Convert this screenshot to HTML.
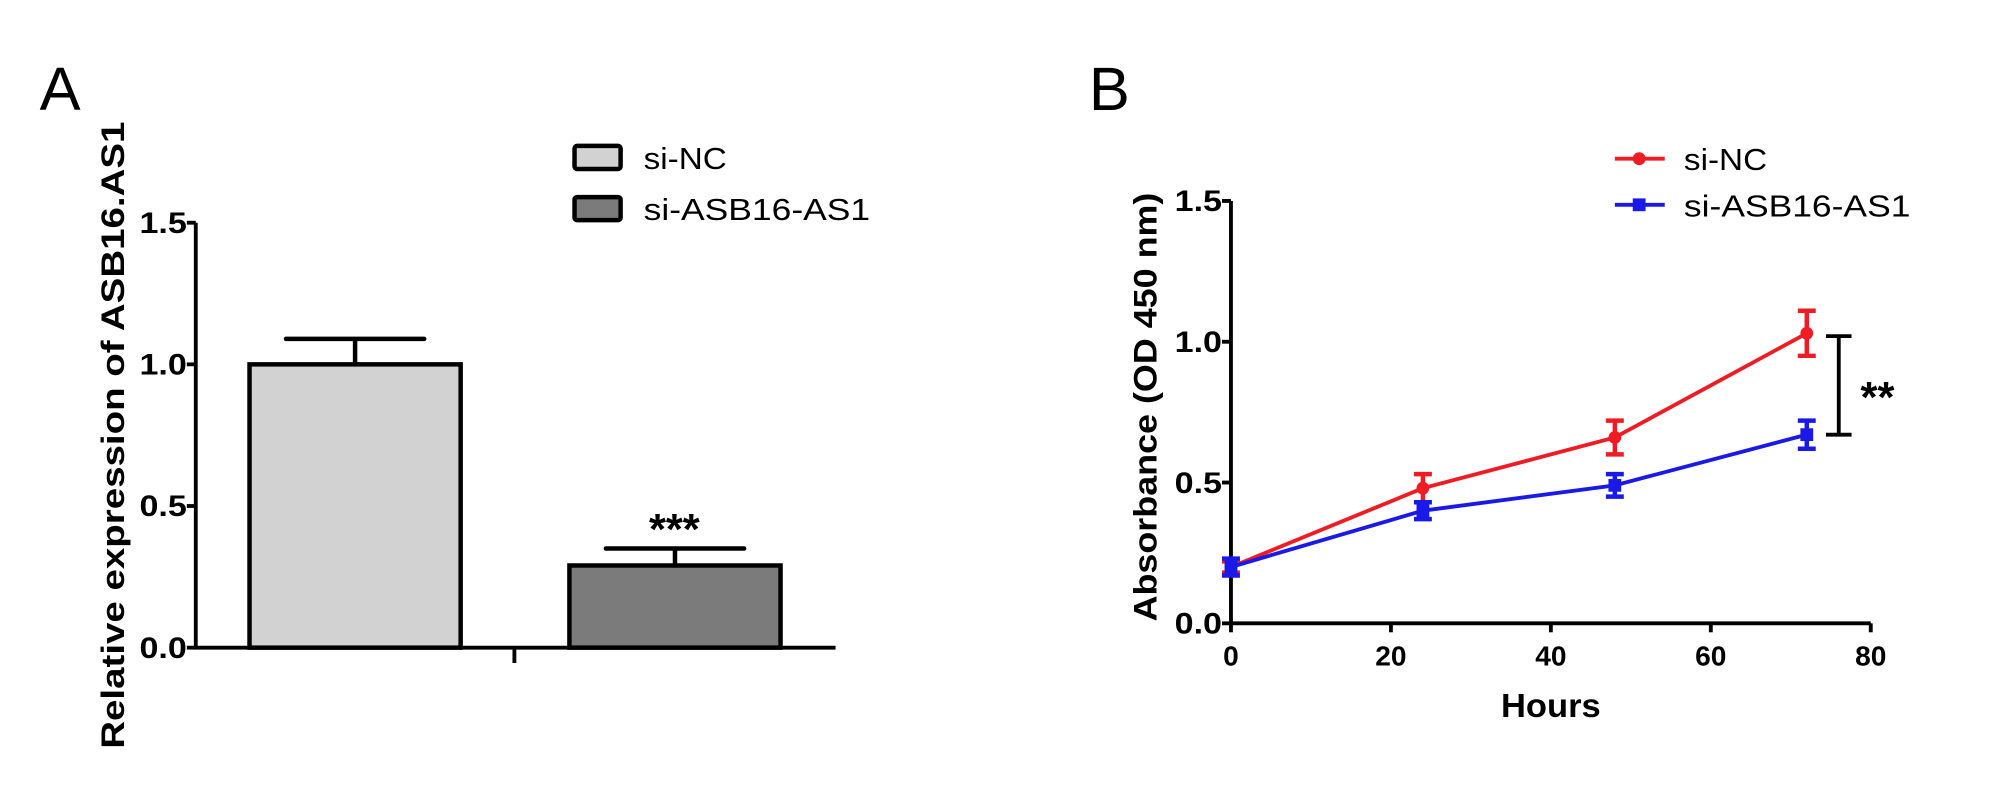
<!DOCTYPE html>
<html><head><meta charset="utf-8"><style>
html,body{margin:0;padding:0;background:#fff;}
svg{display:block;font-family:"Liberation Sans",Arial,sans-serif;}
</style></head><body>
<svg id="fig" width="2000" height="791" viewBox="0 0 1563 618" preserveAspectRatio="none">
<rect width="1563" height="618" fill="#fff"/>
<g id="pa"></g>
<g id="pb"></g>
</svg>
<script>
// Panel A data
const barCats = ["si-NC", "si-ASB16-AS1"];
const barVals = [1.0, 0.29];
const barErr = [0.09, 0.06];
const barColors = ["#d2d2d2", "#7b7b7b"];
const aTicks = [0, 0.5, 1.0, 1.5];
const aTickLabels = ["0.0", "0.5", "1.0", "1.5"];
// Panel B data
const hours = [0, 24, 48, 72];
const ncVals = [0.20, 0.48, 0.66, 1.03];
const ncErr = [0.02, 0.05, 0.06, 0.08];
const asVals = [0.20, 0.40, 0.49, 0.67];
const asErr = [0.03, 0.03, 0.04, 0.05];
const bYTicks = [0, 0.5, 1.0, 1.5];
const bYLabels = ["0.0", "0.5", "1.0", "1.5"];
const bXTicks = [0, 20, 40, 60, 80];

const NS = "http://www.w3.org/2000/svg";
function mk(parent, tag, attrs, text) {
  const e = document.createElementNS(NS, tag);
  for (const k in attrs) e.setAttribute(k, attrs[k]);
  if (text !== undefined) e.textContent = text;
  parent.appendChild(e);
  return e;
}
const pa = document.getElementById("pa");
const pb = document.getElementById("pb");

// ---------- Panel A ----------
const ay = v => 506 - v / 1.5 * 332;
let t = mk(pa, "text", {x: 31, y: 86, "font-size": 48}, "A");


let ax = mk(pa, "path", {d: "M153 174 V506 H653 M402 506 V518", stroke: "#000", "stroke-width": 3, fill: "none"});


aTicks.forEach((v, i) => {
  const tk = mk(pa, "line", {x1: 146, x2: 153, y1: ay(v), y2: ay(v), stroke: "#000", "stroke-width": 3});
  
  
  const tl = mk(pa, "text", {x: 146, y: ay(v) + 8, "font-size": 23, "font-weight": "bold", "text-anchor": "end", textLength: 37, lengthAdjust: "spacingAndGlyphs"}, aTickLabels[i]);
  
  
});
t = mk(pa, "text", {x: 0, y: 0, "font-size": 25, "font-weight": "bold", "text-anchor": "middle", textLength: 490, lengthAdjust: "spacingAndGlyphs", transform: "translate(97,340) rotate(-90)"}, "Relative expression of ASB16.AS1");


const barX = [195, 445], barW = 165;
barVals.forEach((v, i) => {
  const x = barX[i], cx = x + barW / 2;
  const b = mk(pa, "rect", {x: x, y: ay(v), width: barW, height: 506 - ay(v), fill: barColors[i], stroke: "#000", "stroke-width": 3.5});
  
  
  const e = mk(pa, "path", {d: `M${cx} ${ay(v)} V${ay(v + barErr[i])} M${cx - 54} ${ay(v + barErr[i])} H${cx + 54}`, stroke: "#000", "stroke-width": 3.5, "stroke-linecap": "round", fill: "none"});
  
  
});
t = mk(pa, "text", {x: 527, y: 425, "font-size": 34, "font-weight": "bold", "text-anchor": "middle"}, "***");


barCats.forEach((c, i) => {
  const y = 114 + i * 40;
  const r = mk(pa, "rect", {x: 449, y: y, width: 36, height: 18, fill: barColors[i], stroke: "#000", "stroke-width": 3.5, rx: 2});
  
  
  const tx = mk(pa, "text", {x: 503, y: y + 18, "font-size": 24, textLength: i ? 177 : 65, lengthAdjust: "spacingAndGlyphs"}, c);
  
  
});

// ---------- Panel B ----------
const bx = v => 962 + v / 80 * 500;
const by = v => 487 - v / 1.5 * 330;
t = mk(pb, "text", {x: 851, y: 86, "font-size": 48}, "B");


ax = mk(pb, "path", {d: "M962 157 V487 H1462", stroke: "#000", "stroke-width": 3, fill: "none"});


bYTicks.forEach((v, i) => {
  const tk = mk(pb, "line", {x1: 955, x2: 962, y1: by(v), y2: by(v), stroke: "#000", "stroke-width": 3});
  
  
  const tl = mk(pb, "text", {x: 955, y: by(v) + 8, "font-size": 23, "font-weight": "bold", "text-anchor": "end", textLength: 37, lengthAdjust: "spacingAndGlyphs"}, bYLabels[i]);
  
  
});
bXTicks.forEach(v => {
  const tk = mk(pb, "line", {x1: bx(v), x2: bx(v), y1: 487, y2: 494, stroke: "#000", "stroke-width": 3});
  
  
  const tl = mk(pb, "text", {x: bx(v), y: 520, "font-size": 22, "font-weight": "bold", "text-anchor": "middle"}, String(v));
  
  
});
t = mk(pb, "text", {x: 1212, y: 560, "font-size": 26, "font-weight": "bold", "text-anchor": "middle", textLength: 78, lengthAdjust: "spacingAndGlyphs"}, "Hours");


t = mk(pb, "text", {x: 0, y: 0, "font-size": 25, "font-weight": "bold", "text-anchor": "middle", textLength: 335, lengthAdjust: "spacingAndGlyphs", transform: "translate(904,318) rotate(-90)"}, "Absorbance (OD 450 nm)");



function series(vals, errs, color, name, square) {
  const g = mk(pb, "g", {});
  
  
  const pts = hours.map((h, i) => bx(h) + "," + by(vals[i])).join(" ");
  const l = mk(g, "polyline", {points: pts, fill: "none", stroke: color, "stroke-width": 3});
  
  
  hours.forEach((h, i) => {
    const x = bx(h), y = by(vals[i]), e = errs[i];
    const eb = mk(g, "path", {d: `M${x} ${by(vals[i] + e)} V${by(vals[i] - e)} M${x - 7} ${by(vals[i] + e)} H${x + 7} M${x - 7} ${by(vals[i] - e)} H${x + 7}`, stroke: color, "stroke-width": 3.5, fill: "none"});
    
    
    const p = square ? mk(g, "rect", {x: x - 5, y: y - 5, width: 10, height: 10, fill: color})
                     : mk(g, "circle", {cx: x, cy: y, r: 5, fill: color});
    
    
  });
}
series(ncVals, ncErr, "#f01c24", "si-NC", false);
series(asVals, asErr, "#1a1ae8", "si-ASB16-AS1", true);

// significance bracket
const sx = 1437;
const br = mk(pb, "path", {d: `M${sx} ${by(1.02)} V${by(0.67)} M${sx - 10} ${by(1.02)} H${sx + 10} M${sx - 10} ${by(0.67)} H${sx + 10}`, stroke: "#000", "stroke-width": 3, fill: "none"});


t = mk(pb, "text", {x: 1454, y: 322, "font-size": 34, "font-weight": "bold"}, "**");



// legend B
[["si-NC", "#f01c24", false, 124, 65], ["si-ASB16-AS1", "#1a1ae8", true, 160, 177]].forEach(([n, c, sq, y, w]) => {
  const l = mk(pb, "line", {x1: 1262, x2: 1301, y1: y, y2: y, stroke: c, "stroke-width": 3});
  
  
  const m = sq ? mk(pb, "rect", {x: 1276, y: y - 5, width: 10, height: 10, fill: c}) : mk(pb, "circle", {cx: 1281, cy: y, r: 5, fill: c});
  
  
  const tx = mk(pb, "text", {x: 1316, y: y + 9, "font-size": 24, textLength: w, lengthAdjust: "spacingAndGlyphs"}, n);
  
  
});
</script>
</body></html>
